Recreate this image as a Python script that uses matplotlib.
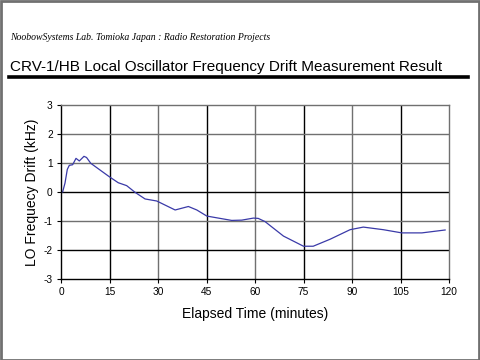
import matplotlib
matplotlib.use("Agg")
import matplotlib.pyplot as plt
from matplotlib.patches import Rectangle
from matplotlib.lines import Line2D

# Data
time_min = [0.5, 1.24, 1.95, 2.57, 3.6, 4.64, 5.67, 7.1, 7.9, 9.2, 14.9, 17.7, 20.3,
            22.9, 26.0, 29.6, 35.3, 39.4, 42.0, 45.1, 49.2, 52.8, 55.9, 59.5, 61.0,
            63.1, 68.8, 75.0, 78.0, 83.2, 89.4, 93.5, 99.7, 105.4, 111.6, 118.8]
drift_khz = [0.0, 0.31, 0.78, 0.92, 0.94, 1.16, 1.07, 1.23, 1.19, 0.99, 0.53, 0.32,
             0.22, -0.01, -0.24, -0.31, -0.62, -0.50, -0.62, -0.83, -0.91, -0.98,
             -0.97, -0.90, -0.91, -1.02, -1.52, -1.87, -1.87, -1.63, -1.30, -1.21,
             -1.30, -1.41, -1.41, -1.31]
x_ticks = [0, 15, 30, 45, 60, 75, 90, 105, 120]
y_ticks = [-3, -2, -1, 0, 1, 2, 3]

fig = plt.figure(figsize=(4.8, 3.6), dpi=100)
fig.patch.set_facecolor("white")
ax = fig.add_axes([61/480, 1-279/360, (449-61)/480, (279-105)/360])

ax.plot(time_min, drift_khz, color="#3a3aa8", lw=0.9, solid_joinstyle="round")
ax.set_xlim(0, 120)
ax.set_ylim(-3, 3)
ax.set_xticks(x_ticks)
ax.set_yticks(y_ticks)
ax.set_xticklabels([str(v) for v in x_ticks], fontsize=7.3, family="Liberation Sans")
ax.set_yticklabels([str(v) for v in y_ticks], fontsize=7.3, family="Liberation Sans")
ax.tick_params(length=3, width=0.8, pad=3, color="black")

gray_x = {30, 60, 90}
for v in x_ticks[1:-1]:
    ax.axvline(v, color="#707070" if v in gray_x else "black", lw=1.0, zorder=0)
gray_y = {1, 2, -1}
for v in y_ticks[1:-1]:
    ax.axhline(v, color="#707070" if v in gray_y else "black", lw=1.0, zorder=0)

for s in ["left", "bottom"]:
    ax.spines[s].set_color("black")
    ax.spines[s].set_linewidth(1.0)
for s in ["top", "right"]:
    ax.spines[s].set_color("#707070")
    ax.spines[s].set_linewidth(1.0)

ax.set_xlabel("Elapsed Time (minutes)", fontsize=10, family="Liberation Sans", labelpad=7)
ax.set_ylabel("LO Frequecy Drift (kHz)", fontsize=10, family="Liberation Sans", labelpad=3)

fig.text(10/480, 1-38/360, "NoobowSystems Lab. Tomioka Japan : Radio Restoration Projects",
         fontsize=7.0, family="Liberation Serif", style="italic", va="center", ha="left")
fig.text(10/480, 1-67/360, "CRV-1/HB Local Oscillator Frequency Drift Measurement Result",
         fontsize=11.0, family="Liberation Sans", va="center", ha="left")
fig.add_artist(Line2D([9/480, 468/480], [1-76.5/360, 1-76.5/360], color="black", lw=2.6,
                      transform=fig.transFigure))
fig.add_artist(Rectangle((0.5/480, 0.5/360), 478.5/480, 358.5/360, transform=fig.transFigure,
                         fill=False, edgecolor="#707070", lw=2))

fig.savefig("out.png", dpi=100)
